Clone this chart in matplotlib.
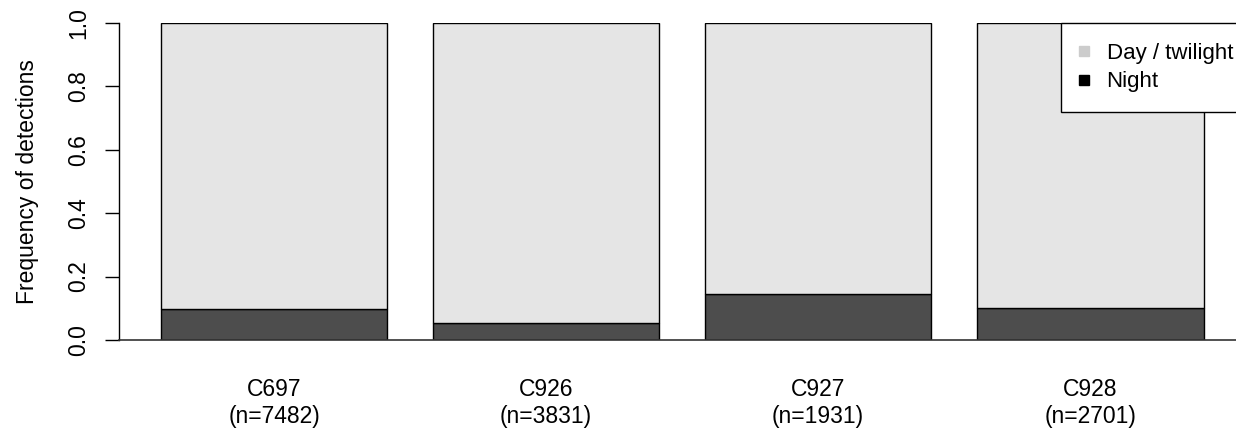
import matplotlib
matplotlib.use("Agg")
import matplotlib.pyplot as plt
from matplotlib.lines import Line2D
import numpy as np

# data
tags = ["C697", "C926", "C927", "C928"]
n_det = [7482, 3831, 1931, 2701]
night = [0.099, 0.053, 0.146, 0.102]
day = [1 - v for v in night]

plt.rcParams['font.family'] = ['Liberation Sans', 'DejaVu Sans']

fig = plt.figure(figsize=(12.36, 4.36), dpi=100)
W, H = 1236, 436
ax = fig.add_axes([119 / W, (H - 340) / H, (W - 119) / W, 317 / H])

# R-style barplot positions: width 1, space 0.2
x = np.arange(len(tags)) * 1.2 + 0.7
ax.bar(x, night, width=1, color="#4D4D4D", edgecolor="black", linewidth=1)
ax.bar(x, day, width=1, bottom=night, color="#E5E5E5", edgecolor="black", linewidth=1)

ax.set_xlim(0.016, 0.016 + (W - 119) / 226.7)
ax.set_ylim(0, 1)

ax.spines['top'].set_visible(False)
ax.spines['right'].set_visible(False)
ax.spines['left'].set_linewidth(1)
ax.spines['bottom'].set_linewidth(1.2)
ax.spines['bottom'].set_color("#333333")

ax.set_xticks(x, [f"{t}\n(n={n})" for t, n in zip(tags, n_det)])
ax.tick_params(axis='x', length=0, pad=27, labelsize=16.5)
for lab in ax.get_xticklabels():
    lab.set_linespacing(1.25)

ax.set_yticks([0, 0.2, 0.4, 0.6, 0.8, 1.0], ["0.0", "0.2", "0.4", "0.6", "0.8", "1.0"])
ax.tick_params(axis='y', length=10, width=1, pad=11, labelsize=16.5)
for lab in ax.get_yticklabels():
    lab.set_rotation(90)
    lab.set_va('center')

ax.set_ylabel("Frequency of detections", fontsize=16.5, va='center')
ax.yaxis.set_label_coords((28 - 119) / (W - 119), 0.5)

handles = [Line2D([], [], marker='s', ls='', color="#CCCCCC", markersize=7.5),
           Line2D([], [], marker='s', ls='', color="black", markersize=7.5)]
leg = ax.legend(handles, ["Day / twilight", "Night"], loc='upper left',
                bbox_to_anchor=(1061 / W, (H - 23) / H), bbox_transform=fig.transFigure,
                borderaxespad=0, fontsize=16, frameon=True, fancybox=False,
                framealpha=1, edgecolor="black", borderpad=0.9,
                handlelength=0.3, handletextpad=0.85, labelspacing=0.33)
leg.get_frame().set_linewidth(1)

plt.savefig("out.png", dpi=100)
plt.close()
